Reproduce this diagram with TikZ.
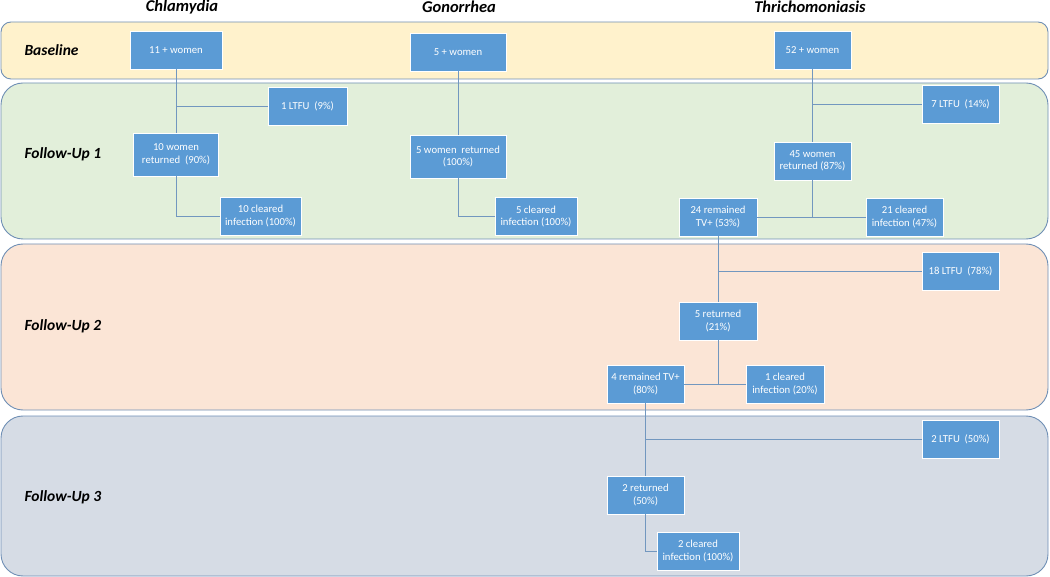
\documentclass[tikz,border=0pt]{standalone}
\usepackage{fontspec}
\setmainfont{Carlito}
\definecolor{boxblue}{HTML}{5B9BD5}
\definecolor{linkblue}{HTML}{7297BF}
\definecolor{bandline}{HTML}{6F8FB5}
\definecolor{baseyellow}{HTML}{FFF2CC}
\definecolor{fupgreen}{HTML}{E2EFDA}
\definecolor{fuppeach}{HTML}{FBE5D6}
\definecolor{fupgray}{HTML}{D6DCE5}
\tikzset{
  box/.style={draw=white, fill=boxblue, text=white, align=center,
    font=\fontsize{10.7}{12.5}\selectfont, minimum height=38pt, inner sep=1pt},
  link/.style={draw=linkblue, line width=0.9pt},
  band/.style={draw=bandline, line width=0.9pt, rounded corners=22pt},
  phase/.style={font=\fontsize{15.5}{18}\selectfont\bfseries\itshape, anchor=west},
  disease/.style={font=\fontsize{16.5}{19}\selectfont\bfseries\itshape}
}
\begin{document}
\begin{tikzpicture}[x=1pt,y=-1pt]
  \useasboundingbox (0,0) rectangle (1050,577);
  \path[band, fill=baseyellow, rounded corners=10pt] (1,22) rectangle (1048,79);
  \path[band, fill=fupgreen] (1,83) rectangle (1048,239);
  \path[band, fill=fuppeach] (1,244) rectangle (1048,410);
  \path[band, fill=fupgray] (1,416) rectangle (1048,576);

  \node[disease] (chl) at (182,7) {Chlamydia};
  \node[disease] (gon) at (459,7) {Gonorrhea};
  \node[disease] (tri) at (810,7) {Thrichomoniasis};
  \node[phase] (base) at (21,50) {Baseline};
  \node[phase] (fu1) at (21,154) {Follow-Up 1};
  \node[phase] (fu2) at (21,326) {Follow-Up 2};
  \node[phase] (fu3) at (21,497) {Follow-Up 3};

  \node[box, minimum width=92pt] (c0) at (176,50) {11 + women};
  \node[box, minimum width=79pt] (cl) at (307.5,106.5) {1 LTFU\ \ (9\%)};
  \node[box, minimum width=85pt, minimum height=43pt] (cr) at (176,154.5) {10 women\\returned\ \ (90\%)};
  \node[box, minimum width=81pt] (cc) at (260.5,216) {10 cleared\\infection (100\%)};

  \node[box, minimum width=96pt] (g0) at (458,52) {5 + women};
  \node[box, minimum width=96pt, minimum height=43pt] (gr) at (458,156.5) {5 women\ \ returned\\(100\%)};
  \node[box, minimum width=82pt] (gc) at (536,216.5) {5 cleared\\infection (100\%)};

  \node[box, minimum width=77pt] (t0) at (812.5,50) {52 + women};
  \node[box, minimum width=77pt] (tl) at (960.5,104) {7 LTFU\ \ (14\%)};
  \node[box, minimum width=77pt] (tr) at (812.5,161) {45 women\\returned\ (87\%)};
  \node[box, minimum width=78pt] (tp) at (718,217) {24 remained\\TV+\ (53\%)};
  \node[box, minimum width=77pt] (tc) at (904.5,217) {21 cleared\\infection (47\%)};

  \node[box, minimum width=77pt] (f2l) at (960.5,271) {18 LTFU\ \ (78\%)};
  \node[box, minimum width=78pt] (f2r) at (718,321) {5 returned\\(21\%)};
  \node[box, minimum width=77pt] (f2p) at (645.5,384) {4 remained TV+\\(80\%)};
  \node[box, minimum width=78pt] (f2c) at (785,384) {1 cleared\\infection (20\%)};

  \node[box, minimum width=77pt] (f3l) at (960.5,439.5) {2 LTFU\ \ (50\%)};
  \node[box, minimum width=77pt] (f3r) at (645.5,495) {2 returned\\(50\%)};
  \node[box, minimum width=82pt] (f3c) at (698,551) {2 cleared\\infection (100\%)};

  \draw[link] (c0) -- (cr);
  \draw[link] (c0 |- cl) -- (cl);
  \draw[link] (cr) |- (cc);
  \draw[link] (g0) -- (gr);
  \draw[link] (gr) |- (gc);
  \draw[link] (t0) -- (tr);
  \draw[link] (t0 |- tl) -- (tl);
  \draw[link] (tr) |- (tp);
  \draw[link] (tr) |- (tc);
  \draw[link] (tp) -- (f2r);
  \draw[link] (tp |- f2l) -- (f2l);
  \draw[link] (f2r) |- (f2p);
  \draw[link] (f2r) |- (f2c);
  \draw[link] (f2p) -- (f3r);
  \draw[link] (f2p |- f3l) -- (f3l);
  \draw[link] (f3r) |- (f3c);
\end{tikzpicture}
\end{document}
